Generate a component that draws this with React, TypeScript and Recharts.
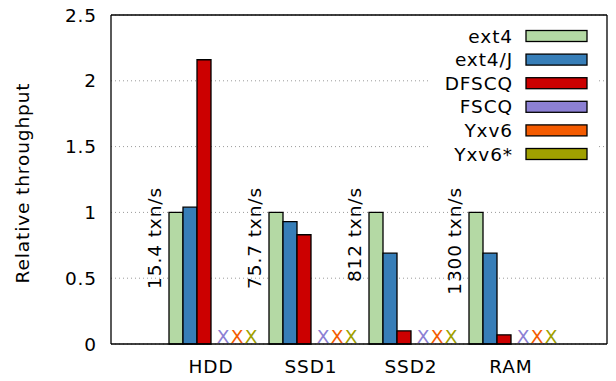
import { BarChart, Bar, XAxis, YAxis, CartesianGrid, Legend, LabelList } from 'recharts';

// categorias e valores
const categories = ['HDD', 'SSD1', 'SSD2', 'RAM'];
const rates = ['15.4 txn/s', '75.7 txn/s', '812 txn/s', '1300 txn/s'];
const ext4 = [1, 1, 1, 1];
const ext4J = [1.04, 0.93, 0.69, 0.69];
const dfscq = [2.16, 0.83, 0.1, 0.07];
// FSCQ / Yxv6 / Yxv6* não têm valor: aparecem como "X"
const fscq = [0, 0, 0, 0];
const yxv6 = [0, 0, 0, 0];
const yxv6s = [0, 0, 0, 0];
const yTicks = [0, 0.5, 1, 1.5, 2, 2.5];

const series = [
  { key: 'ext4', name: 'ext4', color: '#b4d9a4' },
  { key: 'ext4J', name: 'ext4/J', color: '#377eb8' },
  { key: 'dfscq', name: 'DFSCQ', color: '#cc0000' },
  { key: 'fscq', name: 'FSCQ', color: '#8c80d4' },
  { key: 'yxv6', name: 'Yxv6', color: '#f45b00' },
  { key: 'yxv6s', name: 'Yxv6*', color: '#a0a000' },
];
const missing = series.slice(3);

const data = categories.map((cat, i) => ({
  cat,
  rate: rates[i],
  ext4: ext4[i],
  ext4J: ext4J[i],
  dfscq: dfscq[i],
  fscq: fscq[i],
  yxv6: yxv6[i],
  yxv6s: yxv6s[i],
}));

const FONT = '"DejaVu Sans", sans-serif';
const FS = 18.5;
const LS = 0.9;

const renderRate = (props: any) => {
  const { x, y, height, value } = props;
  const bx = x - 8.5;
  const by = y + height - 157;
  return (
    <text x={bx} y={by} transform={`rotate(-90 ${bx} ${by})`} textAnchor="end"
      fontFamily={FONT} fontSize={FS} letterSpacing={LS} fill="#000">{value}</text>
  );
};

// os "X" ficam nas posições das três barras seguintes à DFSCQ
const renderMarks = (props: any) => {
  const { x, y, width, height } = props;
  const base = y + height;
  return (
    <g>
      {missing.map((s, k) => (
        <text key={s.key} x={x + width * (k + 1) + width / 2 + 5} y={base - 1} textAnchor="middle"
          fontFamily={FONT} fontSize={FS} fill={s.color}>X</text>
      ))}
    </g>
  );
};

const renderLegend = () => (
  <svg width={168} height={146} style={{ display: 'block' }}>
    <rect x={0} y={0} width={168} height={146} fill="#fff" />
    {series.map((s, i) => {
      const cy = 14 + i * 23.6;
      return (
        <g key={s.key}>
          <text x={84} y={cy + 6.5} textAnchor="end" fontFamily={FONT} fontSize={FS} letterSpacing={LS} fill="#000">{s.name}</text>
          <rect x={97} y={cy - 5.5} width={61} height={11} fill={s.color} stroke="#000" strokeWidth={1.3} />
        </g>
      );
    })}
  </svg>
);

export default function App() {
  return (
    <div style={{ position: 'absolute', left: 0, top: 0, background: '#fff' }}>
      <BarChart width={616} height={381} data={data}
        margin={{ top: 14, right: 8, bottom: 0, left: 0 }}
        barGap={0} barSize={14}>
        <CartesianGrid horizontal vertical={false} stroke="#9a9a9a" strokeDasharray="1 3" />
        <XAxis dataKey="cat" height={37} padding={{ left: 50, right: 46 }}
          tickLine={false} tickSize={0} tickMargin={16}
          axisLine={{ stroke: '#000', strokeWidth: 1.3 }}
          tick={{ fill: '#000', fontFamily: FONT, fontSize: FS, letterSpacing: LS }} />
        <XAxis xAxisId="top" orientation="top" dataKey="cat" height={1} tick={false} tickLine={false}
          axisLine={{ stroke: '#000', strokeWidth: 1.3 }} />
        <YAxis domain={[0, 2.5]} ticks={yTicks} width={111} tickLine={false} tickSize={0} tickMargin={14}
          axisLine={{ stroke: '#000', strokeWidth: 1.3 }}
          tick={{ fill: '#000', fontFamily: FONT, fontSize: FS, letterSpacing: LS }}
          label={{
            content: () => (
              <text x={29} y={183} transform="rotate(-90 29 183)" textAnchor="middle"
                fontFamily={FONT} fontSize={FS} letterSpacing={LS} fill="#000">Relative throughput</text>
            ),
          }} />
        <YAxis yAxisId="right" orientation="right" width={1} tick={false} tickLine={false}
          axisLine={{ stroke: '#000', strokeWidth: 1.3 }} />
        <Legend layout="vertical" align="center" verticalAlign="middle"
          wrapperStyle={{ position: 'absolute', left: 429, top: 22, width: 168, height: 146 }}
          content={renderLegend} />
        {series.map((s) => (
          <Bar key={s.key} dataKey={s.key} name={s.name} fill={s.color}
            stroke="#000" strokeWidth={1.3} isAnimationActive={false}>
            {s.key === 'ext4' && <LabelList dataKey="rate" content={renderRate} />}
            {s.key === 'dfscq' && <LabelList dataKey="dfscq" content={renderMarks} />}
          </Bar>
        ))}
      </BarChart>
    </div>
  );
}
